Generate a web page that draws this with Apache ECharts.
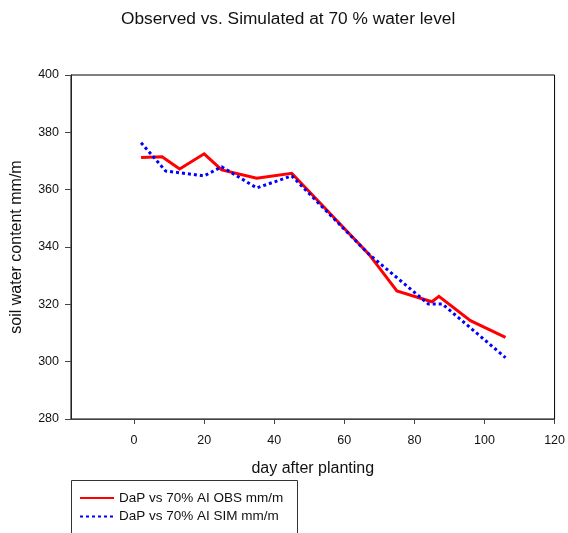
<!DOCTYPE html>
<html>
<head>
<meta charset="utf-8">
<script src="https://cdn.jsdelivr.net/npm/echarts@6/dist/echarts.min.js"></script>
<style>
html,body{margin:0;padding:0;background:#fff;}
#chart{width:568px;height:533px;}
</style>
</head>
<body>
<div id="chart"></div>
<script>
var titleText = "Observed vs. Simulated at 70 % water level";
var xAxisName = "day after planting";
var yAxisName = "soil water content mm/m";
var obsName = "DaP vs 70% AI OBS mm/m";
var simName = "DaP vs 70% AI SIM mm/m";

var obsDays = [2, 8, 13, 20, 25, 35, 45, 67, 75, 85, 87, 96, 106];
var obsValues = [371.2, 371.5, 367.2, 372.5, 366.9, 364.0, 365.7, 337.5, 324.7, 320.9, 322.8, 314.3, 308.5];

var simDays = [2, 9, 20, 25, 35, 45, 67, 84, 88, 106];
var simValues = [376.4, 366.5, 364.8, 368.0, 360.6, 364.8, 337.5, 320.1, 320.1, 301.4];

var xTicks = [0, 20, 40, 60, 80, 100, 120];
var yTicks = [280, 300, 320, 340, 360, 380, 400];

function pairs(xs, ys) {
  return xs.map(function (x, i) { return [x, ys[i]]; });
}

var chart = echarts.init(document.getElementById('chart'), null, {renderer: 'canvas'});
var fontFam = 'Liberation Sans, Arial, sans-serif';
chart.setOption({
  animation: false,
  backgroundColor: '#ffffff',
  title: {
    text: titleText,
    left: 116,
    top: 6,
    textStyle: {fontFamily: fontFam, fontSize: 17.3, fontWeight: 'normal', color: '#111'}
  },
  grid: {
    left: 71, right: 11, top: 75, bottom: 114,
    show: true, borderColor: '#000', borderWidth: 1, backgroundColor: 'transparent'
  },
  graphic: [{
    type: 'rect',
    shape: {x: 71.5, y: 480.5, width: 226, height: 70},
    style: {fill: 'none', stroke: '#333', lineWidth: 1},
    silent: true
  }],
  legend: {
    orient: 'vertical',
    left: 79, top: 491,
    padding: 0,
    itemWidth: 34, itemHeight: 14, itemGap: 4.4,
    itemStyle: {opacity: 0},
    textStyle: {fontFamily: fontFam, fontSize: 13.5, color: '#111'},
    data: [obsName, simName]
  },
  xAxis: {
    type: 'value',
    min: -18, max: 120,
    name: xAxisName,
    nameLocation: 'middle',
    nameGap: 42,
    nameTextStyle: {fontFamily: fontFam, fontSize: 16, color: '#111'},
    axisLine: {show: true, onZero: false, lineStyle: {color: '#444', width: 1}},
    axisTick: {show: true, inside: false, length: 5, customValues: xTicks, lineStyle: {color: '#444'}},
    axisLabel: {customValues: xTicks, margin: 15, fontFamily: fontFam, fontSize: 12.5, color: '#111'},
    splitLine: {show: false}
  },
  yAxis: {
    type: 'value',
    min: 280, max: 400, interval: 20,
    name: yAxisName,
    nameLocation: 'middle',
    nameGap: 46,
    nameTextStyle: {fontFamily: fontFam, fontSize: 16, color: '#111'},
    axisLine: {show: true, onZero: false, lineStyle: {color: '#222', width: 1}},
    axisTick: {show: true, inside: false, length: 6, lineStyle: {color: '#444'}},
    axisLabel: {customValues: yTicks, margin: 12, fontFamily: fontFam, fontSize: 12.5, color: '#111'},
    splitLine: {show: false}
  },
  series: [
    {
      name: obsName,
      type: 'line',
      data: pairs(obsDays, obsValues),
      symbol: 'none',
      color: '#ff0000',
      lineStyle: {color: '#ff0000', width: 3, join: 'miter'},
      z: 2
    },
    {
      name: simName,
      type: 'line',
      data: pairs(simDays, simValues),
      symbol: 'none',
      color: '#0000ff',
      lineStyle: {color: '#0000ff', width: 3, type: [3, 3], cap: 'butt'},
      z: 3
    }
  ]
});
</script>
</body>
</html>
